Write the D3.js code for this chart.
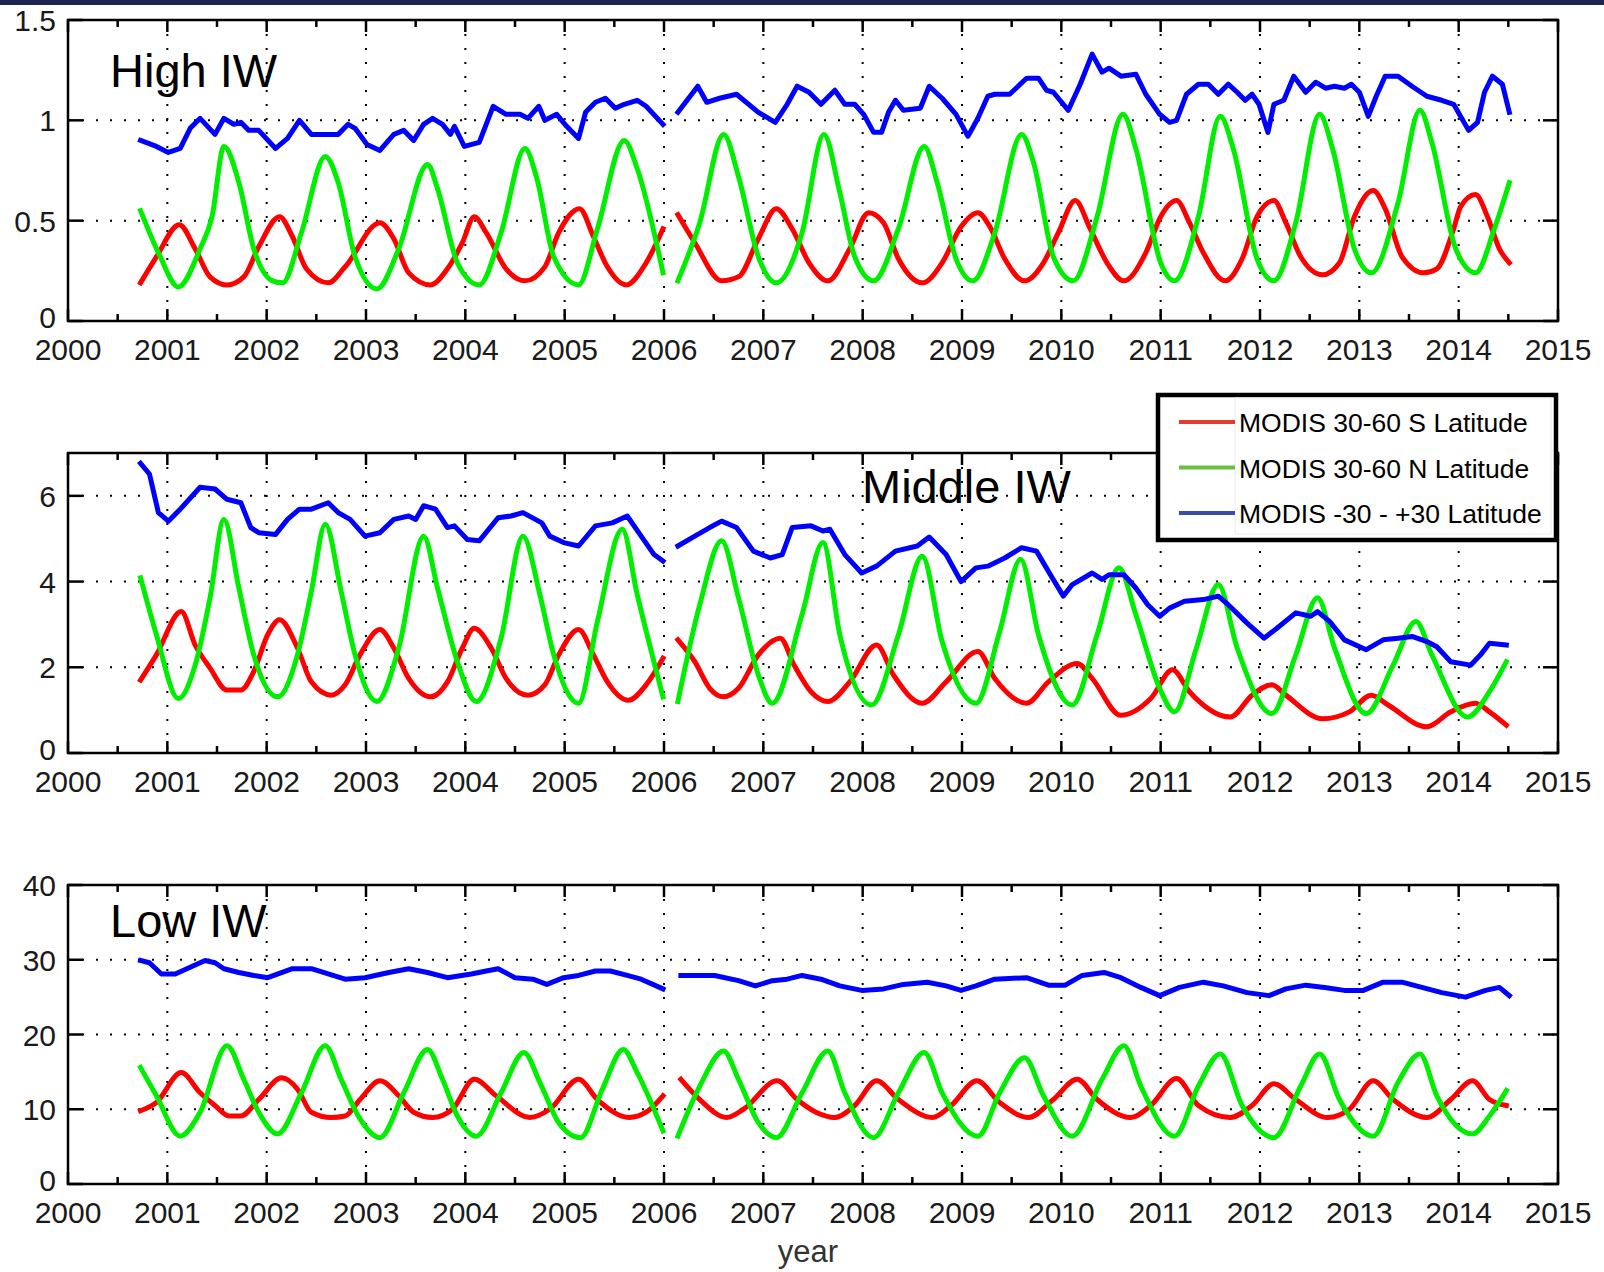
<!DOCTYPE html>
<html>
<head>
<meta charset="utf-8">
<script src="https://cdn.jsdelivr.net/npm/d3@7"></script>
<style>
  body { margin: 0; background: #fff; }
  svg { display: block; }
  text { font-family: "Liberation Sans", Arial, sans-serif; }
</style>
</head>
<body>
<svg id="chart" width="1604" height="1272"></svg>
<script>
"use strict";

// x axis: years, labels on whole years
const yearTicks = d3.range(2000, 2016);
const halfYearTicks = d3.range(2000.5, 2015, 1);

// y tick values for each panel
const highTicks = [0, 0.5, 1, 1.5];
const middleTicks = [0, 2, 4, 6];
const lowTicks = [0, 10, 20, 30, 40];

const seriesNames = ["MODIS 30-60 S Latitude", "MODIS 30-60 N Latitude", "MODIS -30 - +30 Latitude"];

// [year, value]; null marks the gap early in 2006
const highRed = [[2000.73,0.19],[2000.89,0.32],[2001.12,0.48],[2001.28,0.36],[2001.43,0.22],[2001.60,0.18],[2001.77,0.22],[2001.92,0.37],[2002.13,0.52],[2002.26,0.42],[2002.40,0.26],[2002.62,0.19],[2002.79,0.27],[2003.14,0.49],[2003.28,0.41],[2003.43,0.24],[2003.65,0.18],[2003.82,0.26],[2003.97,0.39],[2004.09,0.52],[2004.21,0.44],[2004.41,0.26],[2004.60,0.20],[2004.80,0.27],[2004.94,0.44],[2005.15,0.56],[2005.29,0.42],[2005.43,0.27],[2005.62,0.18],[2005.82,0.29],[2005.99,0.46],[2006.07,null],[2006.14,0.53],[2006.31,0.39],[2006.58,0.20],[2006.75,0.22],[2006.95,0.41],[2007.13,0.56],[2007.29,0.46],[2007.46,0.29],[2007.65,0.20],[2007.87,0.36],[2008.06,0.54],[2008.21,0.49],[2008.36,0.31],[2008.60,0.19],[2008.80,0.29],[2008.99,0.47],[2009.16,0.54],[2009.28,0.47],[2009.43,0.31],[2009.63,0.20],[2009.82,0.29],[2009.97,0.44],[2010.14,0.60],[2010.29,0.46],[2010.46,0.29],[2010.63,0.20],[2010.85,0.34],[2011.00,0.52],[2011.16,0.60],[2011.29,0.49],[2011.43,0.34],[2011.65,0.20],[2011.82,0.31],[2011.97,0.52],[2012.14,0.60],[2012.26,0.49],[2012.41,0.32],[2012.63,0.23],[2012.80,0.29],[2012.95,0.52],[2013.14,0.65],[2013.26,0.56],[2013.43,0.32],[2013.65,0.24],[2013.78,0.26],[2013.95,0.46],[2014.02,0.57],[2014.17,0.63],[2014.29,0.52],[2014.41,0.36],[2014.51,0.29]];
const highGreen = [[2000.73,0.55],[2000.92,0.33],[2001.11,0.17],[2001.33,0.36],[2001.45,0.52],[2001.57,0.87],[2001.72,0.69],[2001.87,0.36],[2002.06,0.20],[2002.16,0.19],[2002.35,0.44],[2002.59,0.82],[2002.72,0.69],[2002.89,0.32],[2003.11,0.16],[2003.33,0.36],[2003.62,0.78],[2003.72,0.66],[2003.92,0.29],[2004.14,0.18],[2004.36,0.44],[2004.60,0.86],[2004.72,0.71],[2004.89,0.32],[2005.14,0.18],[2005.33,0.46],[2005.60,0.90],[2005.73,0.76],[2005.99,0.24],[2006.07,null],[2006.14,0.20],[2006.36,0.49],[2006.60,0.93],[2006.75,0.72],[2006.95,0.32],[2007.13,0.19],[2007.39,0.44],[2007.61,0.93],[2007.77,0.64],[2007.92,0.32],[2008.11,0.20],[2008.36,0.46],[2008.62,0.87],[2008.75,0.69],[2008.94,0.31],[2009.11,0.20],[2009.33,0.44],[2009.60,0.93],[2009.72,0.79],[2009.92,0.32],[2010.12,0.20],[2010.36,0.52],[2010.62,1.03],[2010.75,0.86],[2011.00,0.29],[2011.14,0.20],[2011.38,0.52],[2011.60,1.02],[2011.73,0.86],[2011.97,0.31],[2012.14,0.20],[2012.36,0.49],[2012.60,1.03],[2012.73,0.86],[2012.95,0.36],[2013.12,0.24],[2013.39,0.59],[2013.61,1.05],[2013.73,0.89],[2013.97,0.36],[2014.17,0.24],[2014.36,0.46],[2014.51,0.69]];
const highBlue = [[2000.73,0.90],[2000.89,0.87],[2001.01,0.84],[2001.13,0.86],[2001.23,0.96],[2001.33,1.01],[2001.48,0.93],[2001.57,1.01],[2001.67,0.98],[2001.74,0.99],[2001.82,0.95],[2001.92,0.95],[2002.09,0.86],[2002.21,0.91],[2002.33,1.00],[2002.45,0.93],[2002.60,0.93],[2002.72,0.93],[2002.82,0.98],[2002.89,0.96],[2003.01,0.88],[2003.14,0.85],[2003.28,0.93],[2003.38,0.95],[2003.48,0.90],[2003.58,0.98],[2003.67,1.01],[2003.77,0.98],[2003.85,0.93],[2003.89,0.97],[2003.99,0.87],[2004.14,0.89],[2004.28,1.07],[2004.41,1.03],[2004.55,1.03],[2004.63,1.01],[2004.74,1.07],[2004.80,1.00],[2004.92,1.03],[2005.02,0.97],[2005.14,0.91],[2005.21,1.04],[2005.31,1.09],[2005.41,1.11],[2005.51,1.06],[2005.60,1.08],[2005.73,1.10],[2005.82,1.07],[2005.99,0.98],[2006.07,null],[2006.14,1.04],[2006.34,1.17],[2006.43,1.09],[2006.56,1.11],[2006.73,1.13],[2006.95,1.04],[2007.12,0.99],[2007.24,1.08],[2007.34,1.17],[2007.46,1.14],[2007.58,1.08],[2007.72,1.15],[2007.82,1.08],[2007.92,1.08],[2008.01,1.03],[2008.11,0.94],[2008.19,0.94],[2008.26,1.04],[2008.33,1.10],[2008.41,1.05],[2008.58,1.06],[2008.67,1.17],[2008.80,1.11],[2008.94,1.03],[2009.06,0.92],[2009.16,1.01],[2009.26,1.12],[2009.33,1.13],[2009.48,1.13],[2009.65,1.21],[2009.77,1.21],[2009.85,1.15],[2009.92,1.14],[2010.07,1.05],[2010.19,1.18],[2010.31,1.33],[2010.41,1.24],[2010.48,1.26],[2010.60,1.22],[2010.75,1.23],[2010.85,1.13],[2010.99,1.03],[2011.09,0.99],[2011.16,1.00],[2011.26,1.13],[2011.38,1.18],[2011.48,1.18],[2011.58,1.13],[2011.68,1.18],[2011.77,1.14],[2011.85,1.10],[2011.92,1.13],[2011.99,1.08],[2012.08,0.94],[2012.14,1.08],[2012.24,1.10],[2012.34,1.22],[2012.46,1.14],[2012.56,1.19],[2012.66,1.16],[2012.75,1.17],[2012.85,1.16],[2012.92,1.18],[2013.00,1.14],[2013.09,1.02],[2013.17,1.12],[2013.26,1.22],[2013.39,1.22],[2013.53,1.17],[2013.68,1.12],[2013.83,1.10],[2013.95,1.08],[2014.10,0.95],[2014.19,0.99],[2014.26,1.14],[2014.34,1.22],[2014.44,1.18],[2014.51,1.04]];

const middleRed = [[2000.73,1.70],[2000.89,2.29],[2001.14,3.30],[2001.28,2.52],[2001.43,1.98],[2001.60,1.47],[2001.74,1.47],[2001.87,1.90],[2002.01,2.76],[2002.13,3.11],[2002.31,2.45],[2002.45,1.66],[2002.65,1.35],[2002.79,1.59],[2002.94,2.29],[2003.14,2.88],[2003.28,2.45],[2003.43,1.74],[2003.65,1.31],[2003.82,1.66],[2003.97,2.45],[2004.09,2.91],[2004.26,2.45],[2004.41,1.74],[2004.63,1.35],[2004.80,1.59],[2004.94,2.29],[2005.14,2.88],[2005.29,2.29],[2005.43,1.66],[2005.64,1.23],[2005.82,1.59],[2005.99,2.21],[2006.07,null],[2006.14,2.64],[2006.31,2.13],[2006.46,1.51],[2006.60,1.31],[2006.75,1.51],[2006.95,2.29],[2007.17,2.68],[2007.31,2.05],[2007.48,1.43],[2007.65,1.20],[2007.87,1.66],[2008.14,2.52],[2008.31,1.82],[2008.60,1.16],[2008.84,1.66],[2009.16,2.37],[2009.33,1.74],[2009.65,1.16],[2009.87,1.66],[2010.16,2.09],[2010.31,1.74],[2010.60,0.88],[2010.90,1.27],[2011.12,1.94],[2011.29,1.43],[2011.70,0.84],[2011.92,1.35],[2012.12,1.59],[2012.26,1.35],[2012.63,0.80],[2012.90,0.96],[2013.12,1.35],[2013.29,1.12],[2013.68,0.61],[2013.92,0.96],[2014.17,1.16],[2014.31,0.96],[2014.48,0.65]];
const middleGreen = [[2000.73,4.09],[2000.89,2.76],[2001.11,1.27],[2001.28,2.05],[2001.43,3.62],[2001.57,5.45],[2001.72,3.85],[2001.87,2.29],[2002.11,1.31],[2002.31,2.29],[2002.45,3.77],[2002.59,5.34],[2002.75,3.77],[2002.89,2.29],[2003.11,1.20],[2003.33,2.45],[2003.58,5.06],[2003.72,3.85],[2003.92,2.13],[2004.11,1.20],[2004.36,2.68],[2004.58,5.06],[2004.75,3.70],[2004.89,2.29],[2005.14,1.16],[2005.33,3.07],[2005.58,5.22],[2005.73,3.70],[2005.99,1.31],[2006.07,null],[2006.14,1.20],[2006.36,3.46],[2006.58,4.95],[2006.75,3.62],[2006.95,1.82],[2007.09,1.16],[2007.39,3.23],[2007.60,4.91],[2007.77,2.76],[2008.09,1.12],[2008.36,2.76],[2008.60,4.59],[2008.80,2.60],[2009.14,1.16],[2009.38,2.84],[2009.59,4.52],[2009.77,2.76],[2010.11,1.12],[2010.36,2.76],[2010.58,4.32],[2010.75,3.23],[2010.99,1.51],[2011.14,0.96],[2011.36,2.45],[2011.58,3.93],[2011.77,2.45],[2012.12,0.92],[2012.36,2.29],[2012.58,3.62],[2012.75,2.45],[2013.07,0.92],[2013.34,2.05],[2013.57,3.07],[2013.73,2.29],[2014.09,0.84],[2014.31,1.43],[2014.48,2.13]];
const middleBlue = [[2000.73,6.76],[2000.82,6.51],[2000.91,5.61],[2001.01,5.41],[2001.13,5.69],[2001.33,6.20],[2001.48,6.16],[2001.60,5.92],[2001.74,5.84],[2001.84,5.26],[2001.92,5.14],[2002.09,5.10],[2002.21,5.45],[2002.33,5.69],[2002.45,5.69],[2002.62,5.84],[2002.72,5.61],[2002.84,5.45],[2002.99,5.06],[2003.14,5.14],[2003.28,5.45],[2003.43,5.53],[2003.50,5.45],[2003.58,5.77],[2003.70,5.69],[2003.82,5.26],[2003.89,5.30],[2004.02,4.98],[2004.14,4.95],[2004.33,5.49],[2004.46,5.53],[2004.58,5.61],[2004.77,5.37],[2004.85,5.06],[2004.99,4.91],[2005.14,4.83],[2005.31,5.30],[2005.48,5.37],[2005.63,5.53],[2005.77,5.06],[2005.90,4.63],[2005.99,4.48],[2006.07,null],[2006.14,4.83],[2006.31,5.06],[2006.46,5.26],[2006.58,5.41],[2006.73,5.26],[2006.90,4.71],[2007.07,4.55],[2007.19,4.63],[2007.29,5.26],[2007.48,5.30],[2007.60,5.18],[2007.67,5.22],[2007.82,4.63],[2007.99,4.20],[2008.14,4.36],[2008.33,4.71],[2008.55,4.83],[2008.67,5.04],[2008.84,4.63],[2008.99,4.00],[2009.14,4.32],[2009.26,4.36],[2009.43,4.55],[2009.60,4.79],[2009.75,4.71],[2009.89,4.16],[2010.02,3.66],[2010.11,3.93],[2010.31,4.20],[2010.41,4.05],[2010.48,4.16],[2010.63,4.16],[2010.75,3.85],[2010.87,3.46],[2010.99,3.19],[2011.09,3.38],[2011.24,3.54],[2011.43,3.58],[2011.58,3.66],[2011.68,3.46],[2011.87,3.03],[2012.04,2.68],[2012.17,2.91],[2012.36,3.27],[2012.51,3.19],[2012.58,3.30],[2012.70,3.07],[2012.85,2.64],[2013.07,2.41],[2013.24,2.64],[2013.39,2.68],[2013.53,2.72],[2013.68,2.60],[2013.78,2.48],[2013.92,2.13],[2014.12,2.05],[2014.22,2.29],[2014.31,2.56],[2014.48,2.52]];

const lowRed = [[2000.73,9.8],[2000.89,10.9],[2001.14,14.9],[2001.33,12.2],[2001.48,10.5],[2001.62,9.1],[2001.74,9.1],[2001.92,11.3],[2002.15,14.2],[2002.31,12.7],[2002.45,9.6],[2002.65,8.9],[2002.79,9.1],[2002.94,11.3],[2003.14,13.8],[2003.33,11.8],[2003.48,9.6],[2003.67,8.9],[2003.87,10.0],[2004.09,14.0],[2004.31,11.8],[2004.65,8.9],[2004.85,10.0],[2005.14,14.0],[2005.33,11.3],[2005.65,8.9],[2005.82,9.6],[2005.99,11.8],[2006.07,null],[2006.17,14.0],[2006.36,11.3],[2006.63,8.9],[2006.80,10.0],[2007.14,13.8],[2007.34,11.3],[2007.53,9.6],[2007.72,8.9],[2007.92,10.5],[2008.14,13.8],[2008.36,11.3],[2008.70,8.9],[2008.89,10.5],[2009.15,13.8],[2009.38,10.9],[2009.67,8.9],[2009.92,11.3],[2010.16,14.0],[2010.36,11.3],[2010.70,8.9],[2010.90,10.5],[2011.16,14.1],[2011.38,10.5],[2011.70,8.9],[2011.92,10.5],[2012.14,13.4],[2012.36,11.3],[2012.68,8.9],[2012.90,10.0],[2013.14,13.8],[2013.34,11.3],[2013.68,8.9],[2013.92,11.3],[2014.14,13.8],[2014.31,11.3],[2014.48,10.5]];
const lowGreen = [[2000.73,15.6],[2000.89,11.8],[2001.13,6.4],[2001.33,9.6],[2001.60,18.5],[2001.77,14.0],[2001.92,9.6],[2002.11,6.7],[2002.35,12.2],[2002.59,18.5],[2002.75,14.0],[2002.94,8.7],[2003.14,6.2],[2003.38,12.2],[2003.62,18.0],[2003.77,14.0],[2003.92,9.1],[2004.11,6.4],[2004.36,12.2],[2004.59,17.6],[2004.75,13.6],[2004.94,8.2],[2005.16,6.2],[2005.38,12.7],[2005.59,18.0],[2005.73,14.9],[2005.99,7.1],[2006.07,null],[2006.14,6.4],[2006.36,13.1],[2006.60,17.8],[2006.75,14.0],[2006.95,8.2],[2007.13,6.2],[2007.39,12.2],[2007.65,17.8],[2007.82,12.2],[2008.11,6.2],[2008.36,12.2],[2008.62,17.6],[2008.80,12.2],[2009.16,6.4],[2009.38,12.2],[2009.63,16.9],[2009.82,11.8],[2010.11,6.4],[2010.41,14.0],[2010.63,18.5],[2010.80,13.1],[2011.14,6.4],[2011.38,13.1],[2011.60,17.4],[2011.82,10.5],[2012.14,6.2],[2012.41,13.1],[2012.60,17.4],[2012.80,11.3],[2013.14,6.4],[2013.39,13.6],[2013.61,17.4],[2013.78,11.8],[2014.14,6.7],[2014.31,9.1],[2014.48,12.5]];
const lowBlue = [[2000.73,29.9],[2000.82,29.6],[2000.94,28.1],[2001.08,28.1],[2001.23,29.0],[2001.38,29.9],[2001.48,29.6],[2001.57,28.8],[2001.72,28.3],[2001.87,27.9],[2002.01,27.6],[2002.26,28.8],[2002.45,28.8],[2002.62,28.1],[2002.79,27.4],[2002.99,27.6],[2003.23,28.3],[2003.43,28.8],[2003.62,28.3],[2003.82,27.6],[2004.06,28.1],[2004.21,28.5],[2004.33,28.8],[2004.50,27.6],[2004.68,27.4],[2004.82,26.7],[2004.99,27.6],[2005.14,27.9],[2005.31,28.5],[2005.46,28.5],[2005.63,27.9],[2005.77,27.4],[2005.99,26.1],[2006.07,null],[2006.17,27.9],[2006.51,27.9],[2006.75,27.2],[2006.92,26.5],[2007.09,27.2],[2007.24,27.4],[2007.39,27.9],[2007.58,27.4],[2007.77,26.5],[2007.99,25.9],[2008.21,26.1],[2008.41,26.7],[2008.65,27.0],[2008.84,26.5],[2008.99,25.9],[2009.14,26.5],[2009.33,27.4],[2009.65,27.6],[2009.87,26.6],[2010.04,26.6],[2010.21,27.9],[2010.43,28.3],[2010.60,27.6],[2010.80,26.3],[2010.99,25.2],[2011.19,26.3],[2011.43,27.0],[2011.63,26.5],[2011.87,25.6],[2012.09,25.2],[2012.26,26.1],[2012.46,26.6],[2012.65,26.3],[2012.85,25.9],[2013.04,25.9],[2013.24,27.0],[2013.43,27.0],[2013.63,26.3],[2013.83,25.6],[2014.07,25.0],[2014.27,25.9],[2014.41,26.3],[2014.51,25.2]];

const lineColors = ["#ff0000", "#00ee00", "#0000ff"];
const legendColors = ["#e53a2f", "#6cbf45", "#3a4fa3"];

const panels = [
  { title: "High IW", tx: 110, ty: 87, top: 20, bottom: 321, ymax: 1.5, ticks: highTicks, series: [highRed, highGreen, highBlue] },
  { title: "Middle IW", tx: 862, ty: 503, top: 453, bottom: 753, ymax: 7, ticks: middleTicks, series: [middleRed, middleGreen, middleBlue] },
  { title: "Low IW", tx: 110, ty: 937, top: 885, bottom: 1184, ymax: 40, ticks: lowTicks, series: [lowRed, lowGreen, lowBlue] }
];

const svg = d3.select("#chart");
const left = 68, right = 1558;
const x = d3.scaleLinear().domain([2000, 2015]).range([left, right]);

// dark strip along the top edge
svg.append("rect").attr("x", 0).attr("y", 0).attr("width", 1604).attr("height", 5).attr("fill", "#1b2550");

panels.forEach(function (p) {
  const y = d3.scaleLinear().domain([0, p.ymax]).range([p.bottom, p.top]);
  const g = svg.append("g");

  // dotted grid
  g.selectAll(".vgrid").data(yearTicks.slice(1, -1)).enter().append("line")
    .attr("x1", d => x(d)).attr("x2", d => x(d))
    .attr("y1", p.top).attr("y2", p.bottom)
    .attr("stroke", "#000").attr("stroke-width", 2).attr("stroke-dasharray", "2,12");
  g.selectAll(".hgrid").data(p.ticks.filter(t => t > 0 && t < p.ymax)).enter().append("line")
    .attr("x1", left).attr("x2", right)
    .attr("y1", d => y(d)).attr("y2", d => y(d))
    .attr("stroke", "#000").attr("stroke-width", 2).attr("stroke-dasharray", "2,12");

  // data lines
  p.series.forEach(function (data, i) {
    const line = d3.line()
      .defined(d => d[1] !== null)
      .x(d => x(d[0]))
      .y(d => y(d[1]))
      .curve(i === 2 ? d3.curveLinear : d3.curveMonotoneX);
    g.append("path").datum(data)
      .attr("d", line)
      .attr("fill", "none")
      .attr("stroke", lineColors[i])
      .attr("stroke-width", 5)
      .attr("stroke-linejoin", "round")
      .attr("stroke-linecap", "square");
  });

  // frame
  g.append("rect").attr("x", left).attr("y", p.top)
    .attr("width", right - left).attr("height", p.bottom - p.top)
    .attr("fill", "none").attr("stroke", "#000").attr("stroke-width", 2.5);

  // inward ticks, top and bottom
  const xt = yearTicks.map(v => ({ v: v, len: 12 })).concat(halfYearTicks.map(v => ({ v: v, len: 7 })));
  [[p.bottom, -1], [p.top, 1]].forEach(function (edge) {
    g.selectAll(null).data(xt).enter().append("line")
      .attr("x1", d => x(d.v)).attr("x2", d => x(d.v))
      .attr("y1", edge[0]).attr("y2", d => edge[0] + edge[1] * d.len)
      .attr("stroke", "#000").attr("stroke-width", 2.5);
  });
  [[left, 1], [right, -1]].forEach(function (edge) {
    g.selectAll(null).data(p.ticks).enter().append("line")
      .attr("x1", edge[0]).attr("x2", edge[0] + edge[1] * 15)
      .attr("y1", d => y(d)).attr("y2", d => y(d))
      .attr("stroke", "#000").attr("stroke-width", 2.5);
  });

  // tick labels
  g.selectAll(null).data(yearTicks).enter().append("text")
    .attr("x", d => x(d)).attr("y", p.bottom + 39)
    .attr("text-anchor", "middle").attr("font-size", 30).attr("fill", "#1a1a1a")
    .text(d => d);
  g.selectAll(null).data(p.ticks).enter().append("text")
    .attr("x", 56).attr("y", d => y(d) + (d === 0 ? 7 : 11))
    .attr("text-anchor", "end").attr("font-size", 30).attr("fill", "#1a1a1a")
    .text(d => String(d));

  // panel title
  g.append("text").attr("x", p.tx).attr("y", p.ty)
    .attr("font-size", 47).attr("fill", "#000").text(p.title);
});

// x axis name
svg.append("text").attr("x", 808).attr("y", 1262)
  .attr("text-anchor", "middle").attr("font-size", 31).attr("fill", "#333").text("year");

// legend
const legend = svg.append("g");
legend.append("rect").attr("x", 1158).attr("y", 395).attr("width", 398).attr("height", 145)
  .attr("fill", "#fff").attr("stroke", "#000").attr("stroke-width", 4.5);
legend.append("rect").attr("x", 1235).attr("y", 398).attr("width", 316).attr("height", 136)
  .attr("fill", "#fff").attr("stroke", "#ececec").attr("stroke-width", 1);
const legendY = d3.scalePoint().domain(seriesNames).range([422, 513]);
seriesNames.forEach(function (name, i) {
  legend.append("line")
    .attr("x1", 1179).attr("x2", 1235)
    .attr("y1", legendY(name)).attr("y2", legendY(name))
    .attr("stroke", legendColors[i]).attr("stroke-width", 4);
  legend.append("text")
    .attr("x", 1239).attr("y", legendY(name) + 10)
    .attr("font-size", 26.5).attr("fill", "#000").text(name);
});
</script>
</body>
</html>
